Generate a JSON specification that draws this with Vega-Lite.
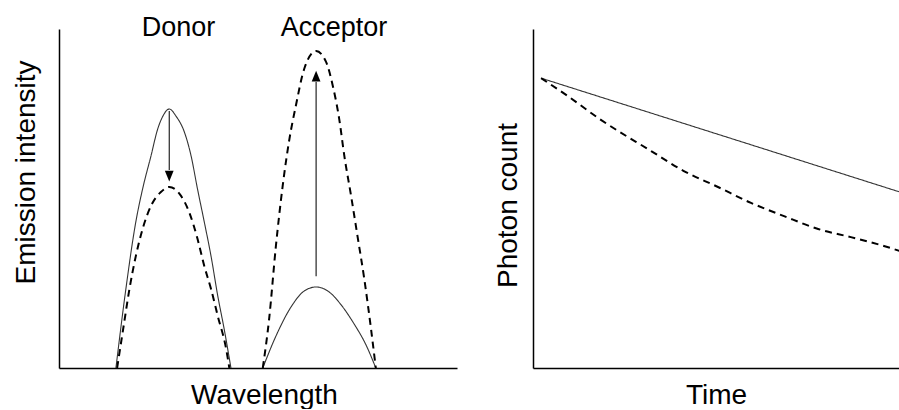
{
  "$schema": "https://vega.github.io/schema/vega-lite/v6.json",
  "background": "white",
  "padding": {"left": 11, "top": 14, "right": 0, "bottom": 0},
  "bounds": "flush",
  "spacing": 76,
  "config": {
    "view": {"stroke": null},
    "font": "Liberation Sans",
    "axis": {
      "domainColor": "#000",
      "domainWidth": 1.5,
      "ticks": false,
      "labels": false,
      "grid": false,
      "titleFont": "Liberation Sans",
      "titleFontSize": 28,
      "titleFontWeight": "normal",
      "titleColor": "#000",
      "titleAlign": "center",
      "titleBaseline": "alphabetic"
    }
  },
  "datasets": {
    "spectra": [
      {"series": "Donor", "state": "no FRET", "w": 14.3, "v": 0},
      {"series": "Donor", "state": "no FRET", "w": 16.8, "v": 23.3},
      {"series": "Donor", "state": "no FRET", "w": 19.3, "v": 43.1},
      {"series": "Donor", "state": "no FRET", "w": 21.0, "v": 52.8},
      {"series": "Donor", "state": "no FRET", "w": 23.1, "v": 62.5},
      {"series": "Donor", "state": "no FRET", "w": 24.8, "v": 70.5},
      {"series": "Donor", "state": "no FRET", "w": 26.1, "v": 74.3},
      {"series": "Donor", "state": "no FRET", "w": 27.7, "v": 76.4},
      {"series": "Donor", "state": "no FRET", "w": 29.4, "v": 74.3},
      {"series": "Donor", "state": "no FRET", "w": 31.5, "v": 69.6},
      {"series": "Donor", "state": "no FRET", "w": 33.2, "v": 62.5},
      {"series": "Donor", "state": "no FRET", "w": 34.8, "v": 52.8},
      {"series": "Donor", "state": "no FRET", "w": 36.5, "v": 43.1},
      {"series": "Donor", "state": "no FRET", "w": 38.2, "v": 33.0},
      {"series": "Donor", "state": "no FRET", "w": 39.9, "v": 21.2},
      {"series": "Donor", "state": "no FRET", "w": 41.5, "v": 11.5},
      {"series": "Donor", "state": "no FRET", "w": 43.2, "v": 0},

      {"series": "Donor", "state": "FRET", "w": 14.6, "v": 0},
      {"series": "Donor", "state": "FRET", "w": 16.4, "v": 13.6},
      {"series": "Donor", "state": "FRET", "w": 17.7, "v": 23.3},
      {"series": "Donor", "state": "FRET", "w": 19.3, "v": 33.0},
      {"series": "Donor", "state": "FRET", "w": 21.0, "v": 41.0},
      {"series": "Donor", "state": "FRET", "w": 23.1, "v": 47.8},
      {"series": "Donor", "state": "FRET", "w": 25.6, "v": 51.9},
      {"series": "Donor", "state": "FRET", "w": 27.7, "v": 53.4},
      {"series": "Donor", "state": "FRET", "w": 30.7, "v": 50.7},
      {"series": "Donor", "state": "FRET", "w": 32.7, "v": 46.0},
      {"series": "Donor", "state": "FRET", "w": 34.8, "v": 38.1},
      {"series": "Donor", "state": "FRET", "w": 36.5, "v": 30.1},
      {"series": "Donor", "state": "FRET", "w": 38.2, "v": 23.3},
      {"series": "Donor", "state": "FRET", "w": 39.9, "v": 15.3},
      {"series": "Donor", "state": "FRET", "w": 42.0, "v": 5.6},
      {"series": "Donor", "state": "FRET", "w": 42.8, "v": 0},

      {"series": "Acceptor", "state": "no FRET", "w": 51.2, "v": 0},
      {"series": "Acceptor", "state": "no FRET", "w": 54.5, "v": 9.4},
      {"series": "Acceptor", "state": "no FRET", "w": 58.3, "v": 18.0},
      {"series": "Acceptor", "state": "no FRET", "w": 61.6, "v": 22.7},
      {"series": "Acceptor", "state": "no FRET", "w": 64.6, "v": 23.9},
      {"series": "Acceptor", "state": "no FRET", "w": 67.9, "v": 22.4},
      {"series": "Acceptor", "state": "no FRET", "w": 70.9, "v": 18.6},
      {"series": "Acceptor", "state": "no FRET", "w": 74.2, "v": 12.9},
      {"series": "Acceptor", "state": "no FRET", "w": 77.1, "v": 6.9},
      {"series": "Acceptor", "state": "no FRET", "w": 79.6, "v": 0},

      {"series": "Acceptor", "state": "FRET", "w": 51.2, "v": 0},
      {"series": "Acceptor", "state": "FRET", "w": 52.8, "v": 14.5},
      {"series": "Acceptor", "state": "FRET", "w": 54.5, "v": 36.0},
      {"series": "Acceptor", "state": "FRET", "w": 56.2, "v": 53.7},
      {"series": "Acceptor", "state": "FRET", "w": 57.9, "v": 67.6},
      {"series": "Acceptor", "state": "FRET", "w": 59.5, "v": 77.3},
      {"series": "Acceptor", "state": "FRET", "w": 61.6, "v": 88.2},
      {"series": "Acceptor", "state": "FRET", "w": 64.6, "v": 93.5},
      {"series": "Acceptor", "state": "FRET", "w": 67.1, "v": 90.3},
      {"series": "Acceptor", "state": "FRET", "w": 68.8, "v": 83.2},
      {"series": "Acceptor", "state": "FRET", "w": 70.4, "v": 73.5},
      {"series": "Acceptor", "state": "FRET", "w": 71.7, "v": 62.5},
      {"series": "Acceptor", "state": "FRET", "w": 73.4, "v": 50.7},
      {"series": "Acceptor", "state": "FRET", "w": 75.0, "v": 38.9},
      {"series": "Acceptor", "state": "FRET", "w": 76.7, "v": 26.3},
      {"series": "Acceptor", "state": "FRET", "w": 78.4, "v": 11.5},
      {"series": "Acceptor", "state": "FRET", "w": 79.6, "v": 0}
    ],
    "arrows": [
      {"series": "Donor", "w": 27.7, "from": 75.8, "to": 58.4, "head": 56.6, "dir": "down"},
      {"series": "Acceptor", "w": 64.6, "from": 27.1, "to": 84.4, "head": 86.1, "dir": "up"}
    ],
    "labels": [
      {"label": "Donor", "w": 30.0, "v": 97.9},
      {"label": "Acceptor", "w": 69.1, "v": 97.9}
    ],
    "decay": [
      {"state": "no FRET", "t": 2.2, "v": 85.5},
      {"state": "no FRET", "t": 100, "v": 51.9},

      {"state": "FRET", "t": 2.2, "v": 85.5},
      {"state": "FRET", "t": 9.5, "v": 80.2},
      {"state": "FRET", "t": 18.5, "v": 73.2},
      {"state": "FRET", "t": 32.2, "v": 64.0},
      {"state": "FRET", "t": 41.1, "v": 58.1},
      {"state": "FRET", "t": 50.4, "v": 53.4},
      {"state": "FRET", "t": 59.4, "v": 48.7},
      {"state": "FRET", "t": 68.4, "v": 44.8},
      {"state": "FRET", "t": 77.7, "v": 41.0},
      {"state": "FRET", "t": 86.6, "v": 38.6},
      {"state": "FRET", "t": 95.6, "v": 36.0},
      {"state": "FRET", "t": 100, "v": 34.5}
    ]
  },
  "hconcat": [
    {
      "width": 398,
      "height": 339,
      "encoding": {
        "x": {
          "field": "w", "type": "quantitative",
          "scale": {"domain": [0, 100], "nice": false, "zero": false},
          "axis": {"title": "Wavelength", "titleX": 205, "titleY": 35}
        }
      },
      "layer": [
        {
          "data": {"name": "spectra"},
          "mark": {"type": "line", "interpolate": "monotone"},
          "encoding": {
            "y": {
              "field": "v", "type": "quantitative",
              "scale": {"domain": [0, 100], "nice": false},
              "axis": {"title": "Emission intensity", "titleX": -25, "titleY": 143, "titleAngle": 270}
            },
            "detail": {"field": "series"},
            "color": {"field": "state", "type": "nominal", "scale": {"domain": ["no FRET", "FRET"], "range": ["#333", "#000"]}, "legend": null},
            "strokeDash": {"field": "state", "type": "nominal", "scale": {"domain": ["no FRET", "FRET"], "range": [[1, 0], [7, 5]]}, "legend": null},
            "strokeWidth": {"field": "state", "type": "nominal", "scale": {"domain": ["no FRET", "FRET"], "range": [1.1, 2]}, "legend": null}
          }
        },
        {
          "data": {"name": "arrows"},
          "mark": {"type": "rule", "color": "#111", "strokeWidth": 1.1},
          "encoding": {
            "y": {"field": "from", "type": "quantitative"},
            "y2": {"field": "to"}
          }
        },
        {
          "data": {"name": "arrows"},
          "mark": {"type": "point", "filled": true, "color": "#000", "opacity": 1, "size": 120},
          "encoding": {
            "y": {"field": "head", "type": "quantitative"},
            "shape": {"field": "dir", "type": "nominal", "scale": {"domain": ["down", "up"], "range": ["M-0.8,-1L0.8,-1L0,1Z", "M-0.8,1L0.8,1L0,-1Z"]}, "legend": null}
          }
        },
        {
          "data": {"name": "labels"},
          "mark": {"type": "text", "font": "Liberation Sans", "fontSize": 27, "align": "center", "baseline": "alphabetic", "color": "#000"},
          "encoding": {
            "y": {"field": "v", "type": "quantitative"},
            "text": {"field": "label"}
          }
        }
      ]
    },
    {
      "width": 367,
      "height": 339,
      "data": {"name": "decay"},
      "mark": {"type": "line", "interpolate": "monotone"},
      "encoding": {
        "x": {
          "field": "t", "type": "quantitative",
          "scale": {"domain": [0, 100], "nice": false, "zero": false},
          "axis": {"title": "Time", "titleX": 183, "titleY": 35}
        },
        "y": {
          "field": "v", "type": "quantitative",
          "scale": {"domain": [0, 100], "nice": false},
          "axis": {"title": "Photon count", "titleX": -17, "titleY": 176, "titleAngle": 270}
        },
        "color": {"field": "state", "type": "nominal", "scale": {"domain": ["no FRET", "FRET"], "range": ["#333", "#000"]}, "legend": null},
        "strokeDash": {"field": "state", "type": "nominal", "scale": {"domain": ["no FRET", "FRET"], "range": [[1, 0], [7, 5]]}, "legend": null},
        "strokeWidth": {"field": "state", "type": "nominal", "scale": {"domain": ["no FRET", "FRET"], "range": [1.1, 2]}, "legend": null}
      }
    }
  ]
}
